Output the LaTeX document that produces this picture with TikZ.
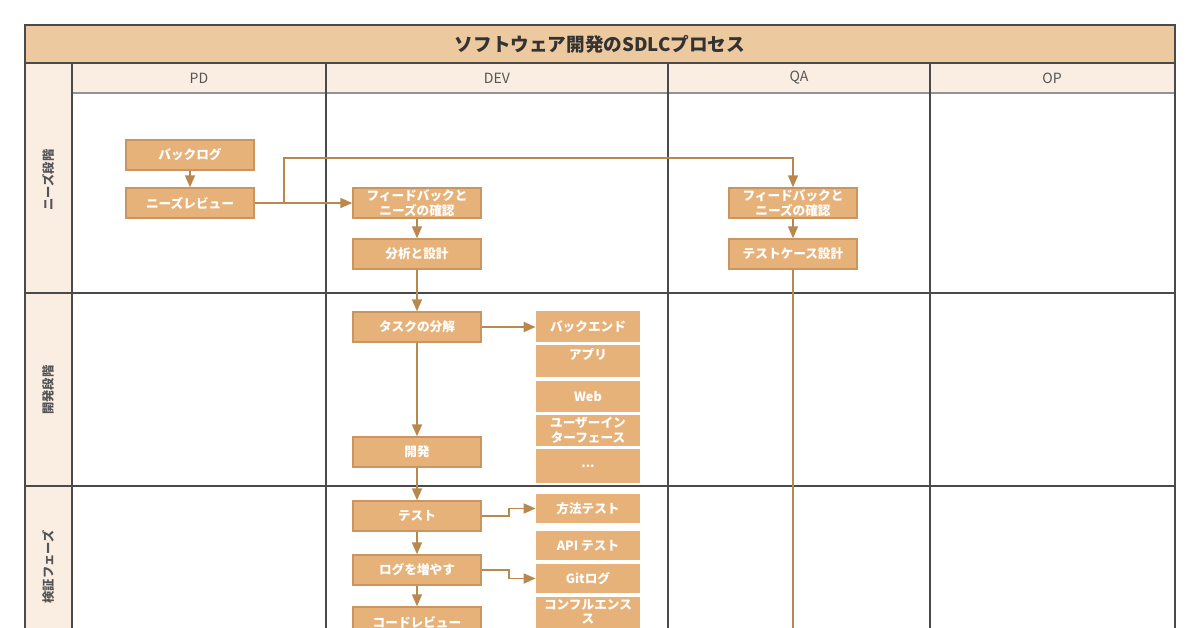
\documentclass[tikz,border=0pt]{standalone}
\usepackage{fontspec}
\setmainfont{Noto Sans CJK JP}
\usetikzlibrary{arrows.meta}
\definecolor{titlebg}{HTML}{EDC9A0}
\definecolor{headbg}{HTML}{FAEEE3}
\definecolor{boxbg}{HTML}{E6B27A}
\definecolor{boxline}{HTML}{C99560}
\definecolor{arrowc}{HTML}{B8884F}
\definecolor{gridc}{HTML}{4A4A4A}
\definecolor{headtext}{HTML}{555555}

\begin{document}
\begin{tikzpicture}[x=0.02cm, y=-0.02cm,
	box/.style={draw=boxline, fill=boxbg, line width=0.8pt, minimum width=2.56cm, minimum height=0.6cm, inner sep=0pt, align=center, text=white, font=\bfseries\fontsize{7.2}{8.4}\selectfont},
	sub/.style={fill=boxbg, minimum width=2.08cm, minimum height=0.58cm, inner sep=0pt, align=center, text=white, font=\bfseries\fontsize{7.2}{8.4}\selectfont},
	arr/.style={draw=arrowc, line width=1pt, -{Triangle[length=0.24cm, width=0.2cm]}},
	grid/.style={draw=gridc, line width=1.1pt},
	lane/.style={text=headtext, font=\bfseries\fontsize{7}{8}\selectfont, rotate=90},
	head/.style={text=headtext, font=\fontsize{8}{10}\selectfont}]
%	ピクセル座標で書く
	\useasboundingbox (0, 0) rectangle (1200, 628);
	\clip (0, 0) rectangle (1200, 628);
	\fill[titlebg](25, 25) rectangle (1175, 63); %タイトル帯
	\fill[headbg](72, 63) rectangle (1175, 93); %列見出し
	\fill[headbg](25, 63) rectangle (72, 640); %行見出し
	\draw[gridc!60, line width=1.1pt](72, 93)-- (1175, 93); %見出しの下線
	\draw[grid](25, 25) rectangle (1175, 640); %外枠
	\draw[grid](25, 63)-- (1175, 63);
	\draw[grid](25, 293)-- (1175, 293); %行の境目(上)
	\draw[grid](25, 486)-- (1175, 486); %行の境目(下)
	\draw[grid](72, 63)-- (72, 640);
	\draw[grid](326, 63)-- (326, 640);
	\draw[grid](668, 63)-- (668, 640);
	\draw[grid](930, 63)-- (930, 640);

	\node[text=black!80, font=\bfseries\fontsize{10.6}{12}\selectfont] (title) at (600, 44) {ソフトウェア開発のSDLCプロセス};
	\node[head] (pd) at (199, 78) {PD};
	\node[head] (devh) at (497, 78) {DEV};
	\node[head] (qa) at (799, 78) {QA};
	\node[head] (op) at (1052, 78) {OP};
	\node[lane] (needs) at (48, 180) {ニーズ段階};
	\node[lane] (devel) at (48, 390) {開発段階};
	\node[lane] (verify) at (48, 567) {検証フェーズ};

	\node[box] (backlog) at (190, 155) {バックログ};
	\node[box] (review) at (190, 203) {ニーズレビュー};
	\node[box] (devfb) at (417, 203) {フィードバックと\\ニーズの確認};
	\node[box] (design) at (417, 254) {分析と設計};
	\node[box] (qafb) at (793, 203) {フィードバックと\\ニーズの確認};
	\node[box] (tcase) at (793, 254) {テストケース設計};
	\node[box] (task) at (417, 327) {タスクの分解};
	\node[box] (dev) at (417, 452) {開発};
	\node[box] (test) at (417, 516) {テスト};
	\node[box] (log) at (417, 570) {ログを増やす};
	\node[box] (creview) at (417, 622) {コードレビュー};

	\node[sub, minimum height=0.62cm] (backend) at (588, 326.5) {バックエンド};
	\node[sub, minimum height=0.64cm] (app) at (588, 361) {アプリ\\\mbox{}};
	\node[sub, minimum height=0.62cm] (web) at (588, 396.5) {Web};
	\node[sub, minimum height=0.62cm] (ui) at (588, 430.5) {ユーザーイン\\ターフェース};
	\node[sub, minimum height=0.68cm] (etc) at (588, 466) {...};
	\node[sub] (mtest) at (588, 508.5) {方法テスト};
	\node[sub] (apitest) at (588, 545.5) {API テスト};
	\node[sub] (gitlog) at (588, 578.5) {Gitログ};
	\node[sub, minimum height=0.62cm] (conf) at (588, 612) {コンフルエンス\\ス};

	\coordinate (split) at (284, 203); %分岐点
	\coordinate (bend) at (284, 158);
	\coordinate (qaend) at (793, 640);
	\draw[arr](backlog)-- (review);
	\draw[arr](review)-- (devfb);
	\draw[arr](split)-- (bend) -| (qafb);
	\draw[arr](devfb)-- (design);
	\draw[arr](qafb)-- (tcase);
	\draw[arr](design)-- (task);
	\draw[arr](task.east)-- (task.east -| backend.west);
	\draw[arr](task)-- (dev);
	\draw[arr](dev)-- (test);
	\draw[arr](test.east)-- ++(27, 0) |- (mtest);
	\draw[arr](test)-- (log);
	\draw[arr](log.east)-- ++(27, 0) |- (gitlog);
	\draw[arr](log)-- (creview);
	\draw[draw=arrowc, line width=1pt](tcase)-- (qaend); %下へ続く線
\end{tikzpicture}
\end{document}
